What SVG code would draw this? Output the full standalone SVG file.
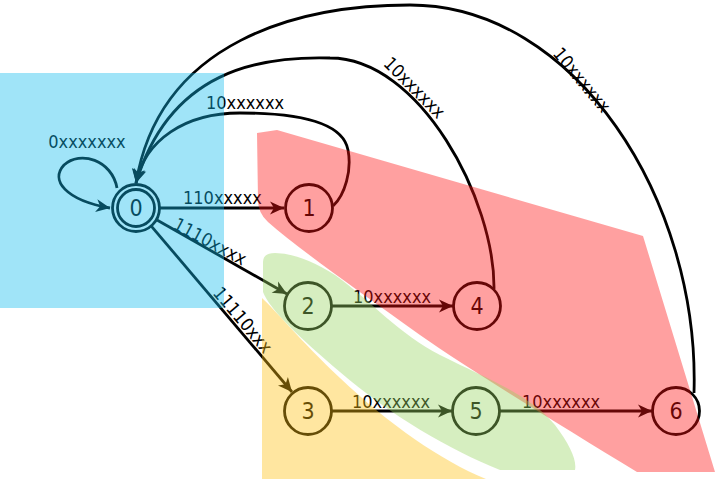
<svg xmlns="http://www.w3.org/2000/svg" width="716" height="479" viewBox="0 0 716 479">
<style>
.edge{fill:none;stroke:#000;stroke-width:2.8}
.node circle{fill:#fff;stroke:#000;stroke-width:2.8}
.nl{font-family:"DejaVu Sans Condensed","DejaVu Sans",sans-serif;font-stretch:condensed;font-size:23px;fill:#000;text-anchor:middle}
.lbl{font-family:"DejaVu Sans Condensed","DejaVu Sans",sans-serif;font-stretch:condensed;font-size:18px;fill:#000}
.ov{stroke:none;fill-opacity:0.4}
</style>
<defs>
<marker id="arr" markerUnits="userSpaceOnUse" markerWidth="18" markerHeight="16" viewBox="-15 -8 17 16" refX="0" refY="0" orient="auto">
<path d="M0,0 L-14,-6.5 L-10,0 L-14,6.5 Z" fill="#000"/>
</marker>
</defs>
<rect width="716" height="479" fill="#fff"/>
<g id="connectors">
<path class="edge" d="M117 188 C112 160 80 150 64 165 C50 180 65 200 110 208" marker-end="url(#arr)"/>
<path class="edge" d="M160 208 L284 208" marker-end="url(#arr)"/>
<path class="edge" d="M157 220 L287 294" marker-end="url(#arr)"/>
<path class="edge" d="M151.5 226.3 L292 392" marker-end="url(#arr)"/>
<path class="edge" d="M332 306 L453 306" marker-end="url(#arr)"/>
<path class="edge" d="M332 411 L452 411" marker-end="url(#arr)"/>
<path class="edge" d="M500 411 L652 411" marker-end="url(#arr)"/>
<path class="edge" d="M333 206 C345 195 352 170 348 150 C343 123 300 113 240 113 C185 113 145 140 136 183" marker-end="url(#arr)"/>
<path class="edge" d="M494 289 C495 200 420 58 330 58 C260 56 170 70 136 183" marker-end="url(#arr)"/>
<path class="edge" d="M694 393 C700 200 575 5 410 5 C300 5 160 40 136 183" marker-end="url(#arr)"/>
<text class="lbl" x="87" y="148" text-anchor="middle">0xxxxxxx</text>
<text class="lbl" x="183" y="204">110xxxxx</text>
<text class="lbl" text-anchor="middle" transform="translate(207,247) rotate(28)">1110xxxx</text>
<text class="lbl" text-anchor="middle" transform="translate(238,324) rotate(49.7)">11110xxx</text>
<text class="lbl" x="206" y="109">10xxxxxx</text>
<text class="lbl" text-anchor="middle" transform="translate(410,92) rotate(45)">10xxxxxx</text>
<text class="lbl" text-anchor="middle" transform="translate(577,84) rotate(50)">10xxxxxx</text>
<text class="lbl" x="353" y="303">10xxxxxx</text>
<text class="lbl" x="352" y="408">10xxxxxx</text>
<text class="lbl" x="522" y="408">10xxxxxx</text>
</g>
<g id="node0" class="node"><circle cx="136" cy="208" r="23.5"/><circle cx="136" cy="208" r="18.5"/><text class="nl" x="136" y="216">0</text></g>
<g id="node1" class="node"><circle cx="309" cy="208" r="23.5"/><text class="nl" x="309" y="216">1</text></g>
<g id="node2" class="node"><circle cx="308" cy="306" r="23.5"/><text class="nl" x="308" y="314">2</text></g>
<g id="node3" class="node"><circle cx="308" cy="411" r="23.5"/><text class="nl" x="308" y="419">3</text></g>
<g id="node4" class="node"><circle cx="477" cy="306" r="23.5"/><text class="nl" x="477" y="314">4</text></g>
<g id="node5" class="node"><circle cx="476" cy="411" r="23.5"/><text class="nl" x="476" y="419">5</text></g>
<g id="node6" class="node"><circle cx="676" cy="411" r="23.5"/><text class="nl" x="676" y="419">6</text></g>
<g id="regions">
<rect class="ov" x="0" y="73" width="224" height="235" fill="#12bced"/>
<path class="ov" fill="#ff1111" d="M257 133 L277 130 L643 236 L715 472 L637 472 C560 425 470 370 420 335 C360 292 300 250 268 222 Q258 213 258 200 Z"/>
<path class="ov" fill="#98d461" d="M263 262 Q263 253 275 253 Q300 253 335 275 C370 300 400 335 440 355 C490 380 530 395 555 425 C570 445 577 460 575 470 L500 470 C450 450 390 415 340 372 C300 338 270 310 263 292 Z"/>
<path class="ov" fill="#ffc011" d="M262 298 L262 479 L486 479 C440 460 390 425 340 378 C300 340 275 310 262 298 Z"/>
</g>
</svg>
